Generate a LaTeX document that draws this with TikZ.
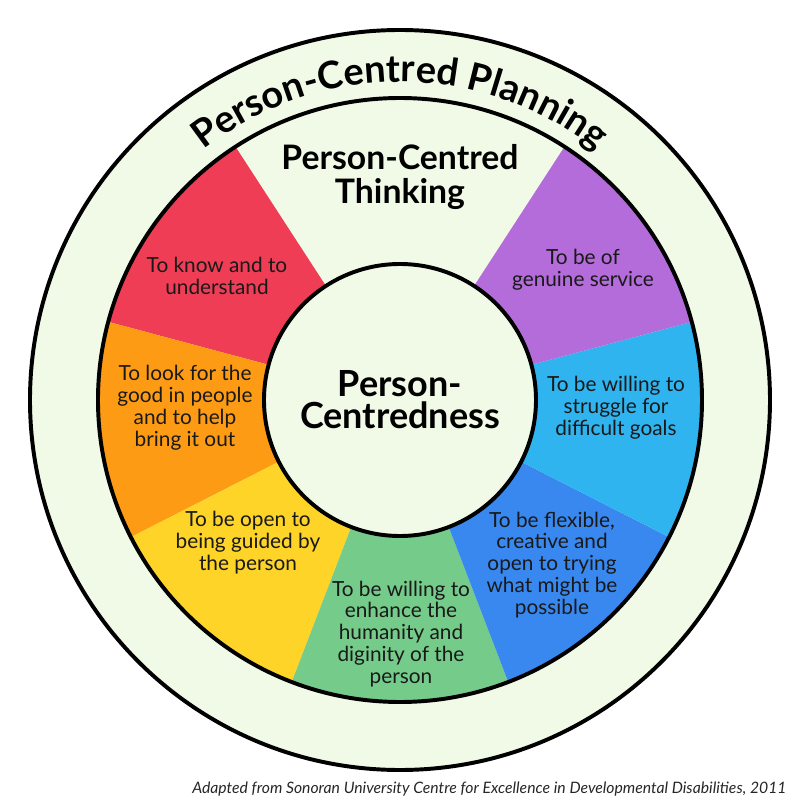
\documentclass[tikz,border=0pt]{standalone}
\usepackage{fontspec}
\setmainfont{Lato}
\usetikzlibrary{decorations.text}
\definecolor{pale}{RGB}{241,250,231}
\definecolor{pcred}{RGB}{238,61,85}
\definecolor{pcorange}{RGB}{253,155,20}
\definecolor{pcyellow}{RGB}{254,212,40}
\definecolor{pcgreen}{RGB}{117,203,138}
\definecolor{pcdarkblue}{RGB}{56,136,240}
\definecolor{pcblue}{RGB}{48,180,240}
\definecolor{pcpurple}{RGB}{180,108,218}
\tikzset{wedgetext/.style={align=center,text=black!90,font=\fontsize{14.8}{15.6}\selectfont}}
\begin{document}
\begin{tikzpicture}[line width=2.8pt]
\useasboundingbox (-10,-10) rectangle (10,10);
\draw[fill=pale] (0,0) circle (9.25);
\foreach \a/\c in {123/pcred,165/pcorange,207/pcyellow,249/pcgreen,291/pcdarkblue,333/pcblue,375/pcpurple} {\fill[\c] (0,0) -- (\a:7.55) arc[start angle=\a, end angle=\a+42, radius=7.55] -- cycle;}
\draw (0,0) circle (7.55);
\draw[fill=pale] (0,0) circle (3.4);
\node[align=center,font=\fontsize{25.6}{22.7}\selectfont\bfseries] (core) at (0,0) {Person-\\Centredness};
\node[align=center,font=\fontsize{24}{24.8}\selectfont\bfseries] (thinking) at (0,5.575) {Person-Centred\\Thinking};
\foreach \x/\y/\n/\t in {-4.575/3.1/know/{To know and to\\understand},-5.375/-0.2/good/{To look for the\\good in people\\and to help\\bring it out},-3.8/-3.575/guided/{To be open to\\being guided by\\the person},0.025/-5.85/dignity/{To be willing to\\enhance the\\humanity and\\diginity of the\\person},3.8/-4.125/flexible/{To be flexible,\\creative and\\open to trying\\what might be\\possible},5.4/-0.2/struggle/{To be willing to\\struggle for\\difficult goals},4.575/3.25/service/{To be of\\genuine service}} {\node[wedgetext] (\n) at (\x,\y) {\t};}
\path[decorate,decoration={text along path,text align=center,text={|\fontsize{27}{27}\selectfont\bfseries|Person-Centred Planning}}] (129:7.95) arc[start angle=129, end angle=51, radius=7.95];
\node[anchor=base east,font=\fontsize{11.2}{13}\selectfont\itshape,text=black!85] (source) at (9.825,-9.825) {Adapted from Sonoran University Centre for Excellence in Developmental Disabilities, 2011};
\end{tikzpicture}
\end{document}
